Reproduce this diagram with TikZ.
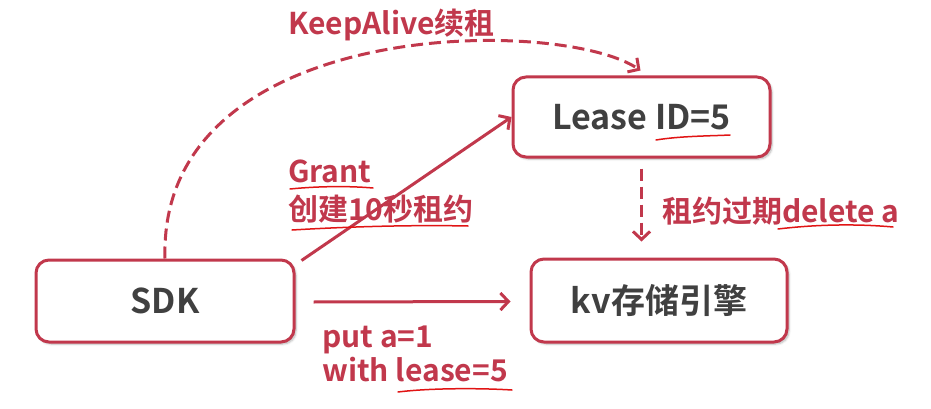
\documentclass[tikz,border=0pt]{standalone}
\usepackage{fontspec}
\setmainfont{Noto Sans CJK SC}[BoldFont={Noto Sans CJK SC Bold}]
\usetikzlibrary{arrows.meta,calc,shadows.blur}
\definecolor{lred}{RGB}{193,56,76}
\definecolor{dgray}{RGB}{64,64,64}
\definecolor{pen}{RGB}{225,20,20}
\tikzset{
  box/.style={draw=lred, line width=3pt, rounded corners=13pt, fill=white,
    text=dgray, font=\fontsize{34}{40}\selectfont\bfseries,
    blur shadow={shadow xshift=2pt, shadow yshift=-2pt, shadow blur steps=5, shadow opacity=30}},
  conn/.style={draw=lred, line width=3pt, -{Straight Barb[length=8pt,width=17pt,line width=3pt]}},
  dconn/.style={conn, dash pattern=on 12pt off 6pt},
  lbl/.style={text=lred, font=\fontsize{30}{36}\selectfont\bfseries, anchor=base west, inner sep=0pt},
  ul/.style={draw=pen, line width=1.5pt, line cap=round},
}
\begin{document}
\begin{tikzpicture}[x=1pt,y=-1pt]
\useasboundingbox (0,0) rectangle (931,409);
\node[box, minimum width=258pt, minimum height=82pt] (sdk) at (165,301) {SDK};
\node[box, minimum width=257pt, minimum height=80pt] (lease) at (641.5,117) {Lease ID=5};
\node[box, minimum width=256pt, minimum height=83pt] (kv) at (659,300.5) {kv存储引擎};

\draw[dconn] (sdk.north) .. controls (158,16) and (560,16) .. ($(lease.north)+(-1,-5)$);
\draw[conn] ($(sdk.north east)+(6,2)$) -- (lease.west);
\draw[conn] ($(sdk.east)+(18,1)$) -- ($(kv.west)+(-19,1)$);
\draw[dconn] ($(lease.south)+(0,10)$) -- ($(lease.south)+(0,83)$);

\node[lbl] (ka) at (288,35) {KeepAlive续租};
\node[lbl] (gr) at (288,182) {Grant};
\node[lbl] (cj) at (288,220) {创建10秒租约};
\node[lbl] (gq) at (662,222) {租约过期delete a};
\node[lbl] (pa) at (322,347) {put a=1};
\node[lbl] (wl) at (322,381) {with lease=5};

\draw[ul] (290,189) .. controls (320,186) and (350,186) .. (373,188);
\draw[ul] (292,230) .. controls (360,226) and (420,225) .. (468,226);
\draw[ul] (656,140) .. controls (680,136) and (710,136) .. (730,135);
\draw[ul] (778,229) .. controls (820,224) and (860,224) .. (893,227);
\draw[ul] (398,392) .. controls (430,388) and (480,388) .. (512,390);
\end{tikzpicture}
\end{document}
